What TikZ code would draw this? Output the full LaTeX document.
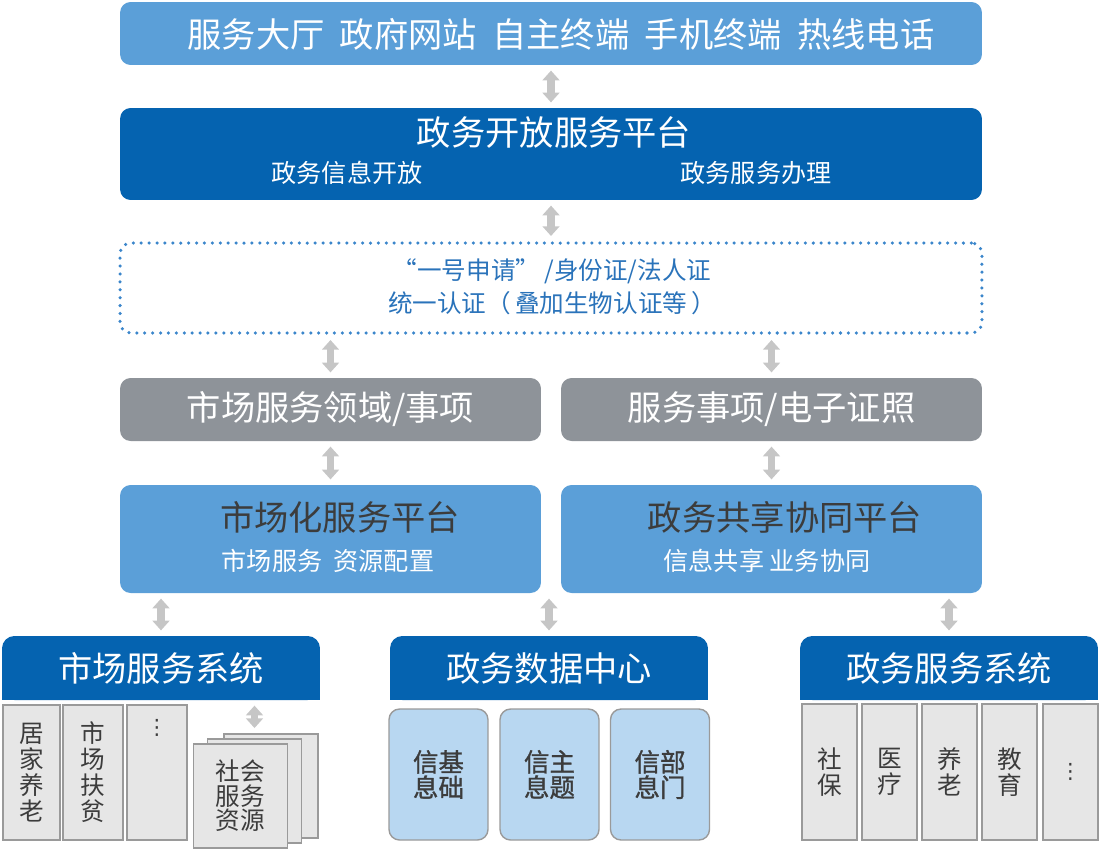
\documentclass[tikz,border=0pt]{standalone}
\usepackage{fontspec}
\setmainfont{Noto Sans CJK SC}
\newfontfamily\dotfont{DejaVu Sans}
\newfontfamily\medfont[FakeBold=1.1]{Noto Sans CJK SC}
\usetikzlibrary{arrows.meta, positioning, calc, backgrounds}

\definecolor{ltblue}{HTML}{5B9FD8}
\definecolor{dkblue}{HTML}{0563B0}
\definecolor{boxgray}{HTML}{8E9399}
\definecolor{cellgray}{HTML}{E6E6E6}
\definecolor{cellblue}{HTML}{B8D7F1}
\definecolor{cellline}{HTML}{9A9A9A}
\definecolor{linkgray}{HTML}{C6C6C6}
\definecolor{dotblue}{HTML}{3B86CB}
\definecolor{authtxtc}{HTML}{2A73BA}
\definecolor{darktxt}{HTML}{3C3C3C}

\newcommand{\sepgap}{\hspace{0.45em}}

\tikzset{
  bigtxt/.style={font=\fontsize{19.5}{22}\selectfont},
  smalltxt/.style={font=\fontsize{14.3}{17}\selectfont},
  panel/.style={rounded corners=6pt, inner sep=0pt, minimum width=17.24cm},
  half/.style={rounded corners=6pt, inner sep=0pt, minimum width=8.42cm},
  hdr/.style={fill=dkblue, rounded corners=7pt, inner sep=0pt, minimum height=1.28cm, text=white, bigtxt},
  cell/.style={draw=cellline, fill=cellgray, line width=0.8pt, inner sep=0pt, align=center,
    text=darktxt, font=\fontsize{14}{14.8}\selectfont},
  datacell/.style={draw=cellline, fill=cellblue, rounded corners=6pt, line width=0.8pt, inner sep=0pt,
    align=center, text=darktxt, font=\medfont\fontsize{14.5}{14.5}\selectfont,
    minimum width=1.98cm, minimum height=2.62cm},
  page/.style={draw=cellline, fill=cellgray, line width=0.8pt, inner sep=0pt,
    minimum width=1.88cm, minimum height=2.08cm},
  link/.style={draw=linkgray, line width=4.5pt,
    {Triangle[width=9.5pt,length=5.5pt]}-{Triangle[width=9.5pt,length=5.5pt]},
    shorten <=3pt, shorten >=3pt}
}

\begin{document}
\begin{tikzpicture}[x=0.02cm, y=-0.02cm]
  \useasboundingbox (0,0) rectangle (1101,849);

  % access channels
  \node[panel, fill=ltblue, minimum height=1.26cm] (chan) at (551,33.5) {};
  \node[bigtxt, text=white] (chantxt) at (561,34) {服务大厅\sepgap 政府网站\sepgap 自主终端\sepgap 手机终端\sepgap 热线电话};

  % open platform
  \node[panel, fill=dkblue, minimum height=1.84cm] (open) at (551,154) {};
  \node[bigtxt, text=white] (opentitle) at (554,132) {政务开放服务平台};
  \node[smalltxt, text=white] (openinfo) at (347,173) {政务信息开放};
  \node[smalltxt, text=white] (openhandle) at (756,173) {政务服务办理};

  % unified authentication
  \node[panel, minimum height=1.8cm, draw=dotblue, line width=2pt, line cap=round,
    dash pattern=on 0pt off 4.5pt] (auth) at (551,288) {};
  \node[font=\fontsize{14}{18.7}\selectfont, text=authtxtc, align=center] (authtxt) at (552,287)
    {“一号申请”\,/身份证/法人证\\统一认证（\,叠加生物认证等\,）};

  % domains
  \node[half, fill=boxgray, minimum height=1.26cm, bigtxt, text=white] (mktdom) at (330.5,409.5) {市场服务领域/事项};
  \node[half, fill=boxgray, minimum height=1.26cm, bigtxt, text=white] (govdom) at (771.5,409.5) {服务事项/电子证照};

  % platforms
  \node[half, fill=ltblue, minimum height=2.16cm] (mktplat) at (330.5,539) {};
  \node[bigtxt, text=darktxt] (mkttitle) at (340,517) {市场化服务平台};
  \node[smalltxt, text=white] (mktsub) at (328,561) {市场服务\sepgap 资源配置};
  \node[half, fill=ltblue, minimum height=2.16cm] (govplat) at (771.5,539) {};
  \node[bigtxt, text=darktxt] (govtitle) at (785,517) {政务共享协同平台};
  \node[smalltxt, text=white] (govsub) at (767,561) {信息共享 业务协同};

  % bottom headers
  \node[hdr, minimum width=6.36cm] (mkthdr) at (161,668) {市场服务系统};
  \node[hdr, minimum width=6.36cm] (dchdr) at (549,668) {政务数据中心};
  \node[hdr, minimum width=5.96cm] (svchdr) at (949,668) {政务服务系统};
  \begin{scope}[on background layer]
    \foreach \h in {mkthdr, dchdr, svchdr}
      \fill[dkblue] (\h.west) rectangle (\h.south east);
  \end{scope}

  % market systems
  \node[cell, minimum width=1.14cm, minimum height=2.7cm] (elder) at (31.5,772.5) {居\\家\\养\\老};
  \node[cell, minimum width=1.2cm, minimum height=2.7cm] (poverty) at (93,772.5) {市\\场\\扶\\贫};
  \node[cell, minimum width=1.2cm, minimum height=2.7cm] (mktmore) at (157,772.5) {};
  \node[text=darktxt, font=\dotfont\fontsize{12}{12}\selectfont] (mktdots) at (157,728) {⋮};
  \node[page] (res3) at (271,786) {};
  \node[page] (res2) at (254.5,791) {};
  \node[page, cell, minimum width=1.88cm, minimum height=2.08cm, font=\fontsize{14}{14}\selectfont] (res1) at (240.5,796) {社会\\服务\\资源};

  % data center
  \node[datacell] (basic) at (438.5,774.5) {信基\\息础};
  \node[datacell] (topic) at (549.5,774.5) {信主\\息题};
  \node[datacell] (dept) at (660,774.5) {信部\\息门};

  % government service systems
  \node[cell, minimum width=1.1cm, minimum height=2.72cm] (social) at (829.5,772) {社\\保};
  \node[cell, minimum width=1.1cm, minimum height=2.72cm] (medical) at (889.5,772) {医\\疗};
  \node[cell, minimum width=1.1cm, minimum height=2.72cm] (aged) at (949.5,772) {养\\老};
  \node[cell, minimum width=1.1cm, minimum height=2.72cm] (edu) at (1009.5,772) {教\\育};
  \node[cell, minimum width=1.1cm, minimum height=2.72cm, font=\dotfont\fontsize{12}{12}\selectfont] (svcmore) at (1070.5,772) {⋮};

  % links
  \draw[link] (chan) -- (open);
  \draw[link] (open) -- (auth);
  \draw[link] (mktdom.north |- auth.south) -- (mktdom);
  \draw[link] (govdom.north |- auth.south) -- (govdom);
  \draw[link] (mktdom) -- (mktplat);
  \draw[link] (govdom) -- (govplat);
  \draw[link] (mkthdr.north |- mktplat.south) -- (mkthdr);
  \draw[link] (dchdr.north |- mktplat.south) -- (dchdr);
  \draw[link] (svchdr.north |- govplat.south) -- (svchdr);
  \draw[link] (mkthdr.south -| res2.north) -- (res2.north |- res3.north);
\end{tikzpicture}
\end{document}
